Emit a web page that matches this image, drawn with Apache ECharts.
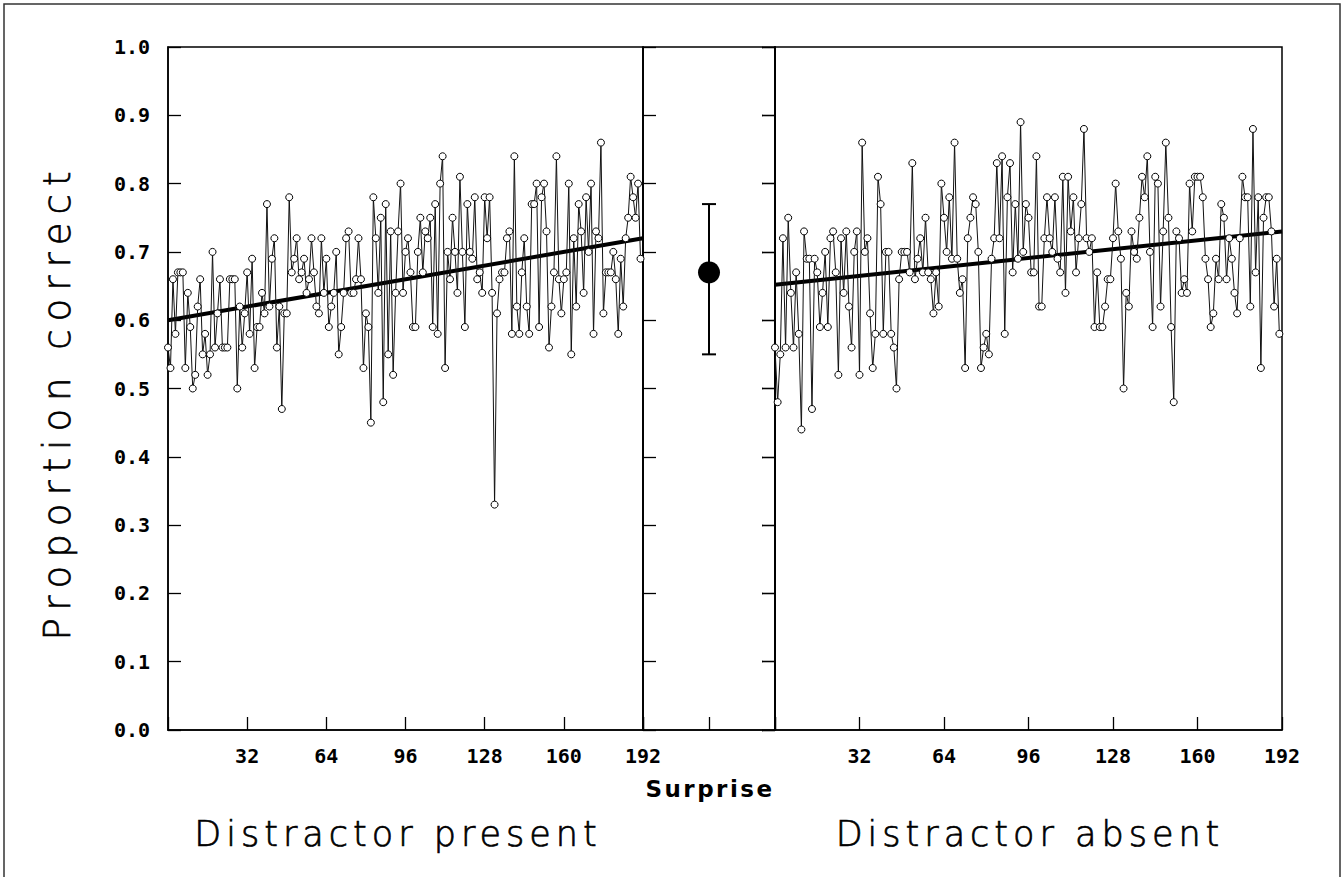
<!DOCTYPE html>
<html><head><meta charset="utf-8">
<script src="https://cdn.jsdelivr.net/npm/echarts@6/dist/echarts.min.js"></script>
<style>
html,body{margin:0;padding:0;background:#fff;}
#c{width:1344px;height:877px;}
#c svg text[style*="35px"]{letter-spacing:5px;}
#c svg text[style*="37px"]{letter-spacing:8px;}
#c svg text[style*="23px"]{letter-spacing:2.5px;}
</style></head><body><div id="c"></div>
<script>
// ---- data ----
const xTicks = [32, 64, 96, 128, 160, 192];
const yTicks = [0.0, 0.1, 0.2, 0.3, 0.4, 0.5, 0.6, 0.7, 0.8, 0.9, 1.0];
const presentVals = [
 0.56,0.53,0.66,0.58,0.67,0.67,0.67,0.53,0.64,0.59,
 0.50,0.52,0.62,0.66,0.55,0.58,0.52,0.55,0.70,0.56,
 0.61,0.66,0.56,0.56,0.56,0.66,0.66,0.66,0.50,0.62,
 0.56,0.61,0.67,0.58,0.69,0.53,0.59,0.59,0.64,0.61,
 0.77,0.62,0.69,0.72,0.56,0.62,0.47,0.61,0.61,0.78,
 0.67,0.69,0.72,0.66,0.67,0.69,0.64,0.66,0.72,0.67,
 0.62,0.61,0.72,0.64,0.69,0.59,0.62,0.64,0.70,0.55,
 0.59,0.64,0.72,0.73,0.64,0.64,0.66,0.72,0.66,0.53,
 0.61,0.59,0.45,0.78,0.72,0.64,0.75,0.48,0.77,0.55,
 0.73,0.52,0.64,0.73,0.80,0.64,0.70,0.72,0.67,0.59,
 0.59,0.70,0.75,0.67,0.73,0.72,0.75,0.59,0.77,0.58,
 0.80,0.84,0.53,0.70,0.66,0.75,0.70,0.64,0.81,0.70,
 0.59,0.77,0.70,0.69,0.78,0.66,0.67,0.64,0.78,0.72,
 0.78,0.64,0.33,0.61,0.66,0.67,0.67,0.72,0.73,0.58,
 0.84,0.62,0.58,0.67,0.72,0.62,0.58,0.77,0.77,0.80,
 0.59,0.78,0.80,0.73,0.56,0.62,0.67,0.84,0.66,0.61,
 0.66,0.67,0.80,0.55,0.72,0.62,0.77,0.73,0.64,0.78,
 0.70,0.80,0.58,0.73,0.72,0.86,0.61,0.67,0.67,0.67,
 0.70,0.66,0.58,0.69,0.62,0.72,0.75,0.81,0.78,0.75,
 0.80,0.69
];
const absentVals = [
 0.56,0.48,0.55,0.72,0.56,0.75,0.64,0.56,0.67,0.58,
 0.44,0.73,0.69,0.69,0.47,0.69,0.67,0.59,0.64,0.70,
 0.59,0.72,0.73,0.67,0.52,0.72,0.64,0.73,0.62,0.56,
 0.70,0.73,0.52,0.86,0.70,0.72,0.61,0.53,0.58,0.81,
 0.77,0.58,0.70,0.70,0.58,0.56,0.50,0.66,0.70,0.70,
 0.70,0.67,0.83,0.66,0.69,0.72,0.67,0.75,0.67,0.66,
 0.61,0.67,0.62,0.80,0.75,0.70,0.78,0.69,0.86,0.69,
 0.64,0.66,0.53,0.72,0.75,0.78,0.77,0.70,0.53,0.56,
 0.58,0.55,0.69,0.72,0.83,0.72,0.84,0.58,0.78,0.83,
 0.67,0.77,0.69,0.89,0.70,0.77,0.75,0.67,0.67,0.84,
 0.62,0.62,0.72,0.78,0.72,0.70,0.78,0.69,0.67,0.81,
 0.64,0.81,0.73,0.78,0.67,0.72,0.77,0.88,0.72,0.70,
 0.72,0.59,0.67,0.59,0.59,0.62,0.66,0.66,0.72,0.80,
 0.73,0.69,0.50,0.64,0.62,0.73,0.70,0.69,0.75,0.81,
 0.78,0.84,0.70,0.59,0.81,0.80,0.62,0.73,0.86,0.75,
 0.59,0.48,0.73,0.72,0.64,0.66,0.64,0.80,0.73,0.81,
 0.81,0.81,0.78,0.69,0.66,0.59,0.61,0.69,0.66,0.77,
 0.75,0.66,0.72,0.69,0.64,0.61,0.72,0.81,0.78,0.78,
 0.62,0.88,0.67,0.78,0.53,0.75,0.78,0.78,0.73,0.62,
 0.69,0.58
];
const fitPresent = [0.600, 0.720];   // regression line at trial 0 and 192
const fitAbsent = [0.652, 0.730];
const surpriseMean = 0.67;
const surpriseLow = 0.55;
const surpriseHigh = 0.77;
const panelTitles = ['Distractor present', 'Distractor absent'];
const middleLabel = 'Surprise';
const yName = 'Proportion correct';

// ---- chart ----
const chart = echarts.init(document.getElementById('c'), null, {renderer: 'svg'});
const pts = vals => vals.map((v, i) => [i, v]);
const tickFont = {fontFamily: 'DejaVu Sans Mono', fontWeight: 'bold', fontSize: 20, color: '#000'};
const axLine = {show: true, lineStyle: {color: '#000', width: 1.5}};
const axTick = {show: true, inside: true, length: 13, lineStyle: {color: '#000', width: 1.3}};
const bigText = {fontFamily: 'DejaVu Sans', fontWeight: 300, fill: '#000', stroke: '#000', lineWidth: 0.7, textAlign: 'center', textVerticalAlign: 'middle'};

function xAx(grid, labels) {
  return {
    gridIndex: grid, type: 'value', min: 0, max: 192, interval: 32,
    axisLine: axLine, axisTick: axTick, splitLine: {show: false},
    axisLabel: labels ? Object.assign({
      show: true, margin: 16,
      formatter: v => xTicks.includes(v) ? String(v) : ''
    }, tickFont) : {show: false}
  };
}
function yAx(grid, pos, labels) {
  return {
    gridIndex: grid, type: 'value', min: 0, max: 1, interval: 0.1, position: pos,
    axisLine: axLine, axisTick: axTick, splitLine: {show: false},
    axisLabel: labels ? Object.assign({
      show: true, margin: 18,
      formatter: v => yTicks.some(t => Math.abs(t - v) < 1e-6) ? v.toFixed(1) : ''
    }, tickFont) : {show: false}
  };
}
function dataSeries(xi, yi, vals) {
  return {
    type: 'line', xAxisIndex: xi, yAxisIndex: yi, data: pts(vals),
    symbol: 'circle', symbolSize: 7, showSymbol: true,
    lineStyle: {color: '#111', width: 1},
    itemStyle: {color: '#fff', borderColor: '#000', borderWidth: 1},
    z: 3, silent: true
  };
}
function fitSeries(xi, yi, f) {
  return {
    type: 'line', xAxisIndex: xi, yAxisIndex: yi,
    data: [[0, f[0]], [192, f[1]]], symbol: 'none',
    lineStyle: {color: '#000', width: 4}, z: 2, silent: true
  };
}
const gridBase = {top: 47, height: 683, show: true, borderColor: '#000', borderWidth: 1.5, backgroundColor: 'transparent'};

const option = {
  animation: false,
  backgroundColor: '#fff',
  grid: [
    Object.assign({left: 168, width: 475}, gridBase),
    Object.assign({left: 643, width: 132}, gridBase),
    Object.assign({left: 775, width: 507}, gridBase)
  ],
  xAxis: [
    xAx(0, true),
    {gridIndex: 1, type: 'value', min: 0, max: 2, interval: 1,
     axisLine: axLine, axisTick: axTick, splitLine: {show: false}, axisLabel: {show: false}},
    xAx(2, true)
  ],
  yAxis: [
    yAx(0, 'left', true),
    yAx(1, 'left', false),
    yAx(1, 'right', false),
    yAx(2, 'right', false)
  ],
  series: [
    fitSeries(0, 0, fitPresent),
    dataSeries(0, 0, presentVals),
    fitSeries(2, 3, fitAbsent),
    dataSeries(2, 3, absentVals),
    {
      type: 'custom', xAxisIndex: 1, yAxisIndex: 1,
      data: [[1, surpriseLow, surpriseHigh]],
      encode: {x: 0, y: [1, 2]},
      renderItem: function (params, api) {
        const x = api.value(0);
        const p1 = api.coord([x, api.value(1)]);
        const p2 = api.coord([x, api.value(2)]);
        const w = 7;
        const st = {stroke: '#000', lineWidth: 2};
        return {type: 'group', children: [
          {type: 'line', shape: {x1: p1[0], y1: p1[1], x2: p2[0], y2: p2[1]}, style: st},
          {type: 'line', shape: {x1: p1[0] - w, y1: p1[1], x2: p1[0] + w, y2: p1[1]}, style: st},
          {type: 'line', shape: {x1: p2[0] - w, y1: p2[1], x2: p2[0] + w, y2: p2[1]}, style: st}
        ]};
      },
      z: 3, silent: true
    },
    {
      type: 'scatter', xAxisIndex: 1, yAxisIndex: 1,
      data: [[1, surpriseMean]], symbol: 'circle', symbolSize: 22,
      itemStyle: {color: '#000', opacity: 1}, z: 4, silent: true
    }
  ],
  graphic: [
    {type: 'rect', shape: {x: 4, y: 4, width: 1336, height: 880}, style: {fill: 'none', stroke: '#333', lineWidth: 1.5}, silent: true},
    {type: 'text', x: 57, y: 402, rotation: Math.PI / 2,
     style: Object.assign({text: yName, fontSize: 37}, bigText)},
    {type: 'text', x: 710, y: 789,
     style: {text: middleLabel, fontFamily: 'DejaVu Sans', fontWeight: 'bold', fontSize: 23, fill: '#000', textAlign: 'center', textVerticalAlign: 'middle'}},
    {type: 'text', x: 398, y: 834,
     style: Object.assign({text: panelTitles[0], fontSize: 35}, bigText)},
    {type: 'text', x: 1030, y: 834,
     style: Object.assign({text: panelTitles[1], fontSize: 35}, bigText)}
  ]
};
chart.setOption(option);
</script></body></html>
